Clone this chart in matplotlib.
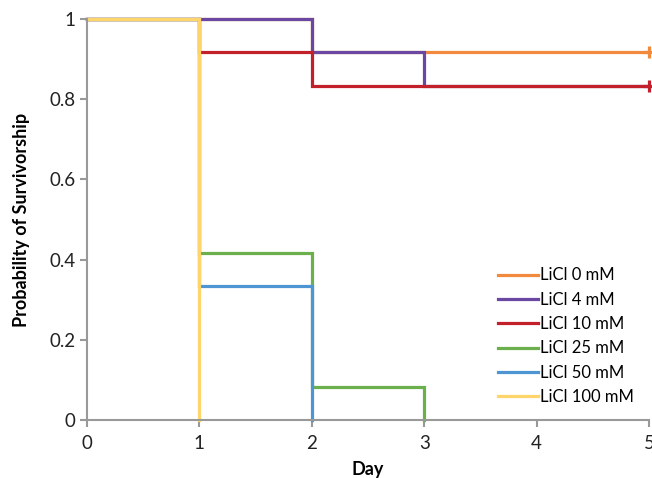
import matplotlib
matplotlib.use('Agg')
import matplotlib.pyplot as plt

plt.rcParams['font.family'] = ['Lato', 'DejaVu Sans']

# step data: (times, survival) for each LiCl dose
labels = ['LiCl 0 mM', 'LiCl 4 mM', 'LiCl 10 mM', 'LiCl 25 mM', 'LiCl 50 mM', 'LiCl 100 mM']
colors = ['#F28A3D', '#6A47A3', '#C2212C', '#6BB04D', '#4E95D3', '#FDD56A']
times = [
    [0, 2, 5],
    [0, 2, 3, 5],
    [0, 1, 2, 5],
    [0, 1, 2, 3],
    [0, 1, 2],
    [0, 1],
]
surv = [
    [1.0, 0.917, 0.917],
    [1.0, 0.917, 0.833, 0.833],
    [1.0, 0.917, 0.833, 0.833],
    [1.0, 0.417, 0.083, 0.0],
    [1.0, 0.333, 0.0],
    [1.0, 0.0],
]
censored = [True, False, True, False, False, False]

fig = plt.figure(figsize=(6.52, 4.78), dpi=100)
ax = fig.add_axes([87/652, 58/478, 562/652, 401/478])

for t, s, c, lab, cens in zip(times, surv, colors, labels, censored):
    ax.step(t, s, where='post', color=c, lw=2.3, label=lab, solid_joinstyle='miter')
    if cens:
        ax.plot(t[-1], s[-1], marker='+', color=c, ms=9, mew=2.3)

ax.set_xlim(0, 5)
ax.set_ylim(0, 1)
ax.set_xticks([0, 1, 2, 3, 4, 5])
ax.set_yticks([0, 0.2, 0.4, 0.6, 0.8, 1])
ax.set_yticklabels(['0', '0.2', '0.4', '0.6', '0.8', '1'])
ax.tick_params(labelsize=13.5, colors='#999999', length=5, width=1.5, labelcolor='#222222')
ax.tick_params(axis='x', pad=6)
for side in ['top', 'right']:
    ax.spines[side].set_visible(False)
for side in ['left', 'bottom']:
    ax.spines[side].set_color('#999999')
    ax.spines[side].set_linewidth(1.5)

ax.set_xlabel('Day', fontsize=13, fontweight='bold', labelpad=6)
ax.set_ylabel('Probability of Survivorship', fontsize=13, fontweight='bold', labelpad=14)

ax.legend(loc='lower right', frameon=False, fontsize=12, handlelength=2.4,
          handletextpad=0.1, labelspacing=0.5, bbox_to_anchor=(1.0, 0.0))

for l in ax.lines:
    l.set_clip_on(False)

fig.savefig('out.png', dpi=100)
